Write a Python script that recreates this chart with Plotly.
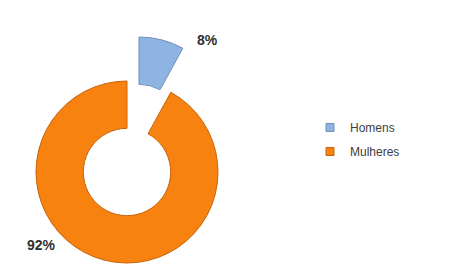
import plotly.graph_objects as go

categories = ["Homens", "Mulheres"]
values = [8, 92]
colors = ["#8EB4E3", "#F7820F"]
edge_colors = ["#6F8FB8", "#C8620A"]
label_texts = [f"{v}%" for v in values]

W, H = 459, 264

def dom(cx, cy, r):
    return dict(x=[(cx - r) / W, (cx + r) / W],
                y=[(H - cy - r) / H, (H - cy + r) / H])

fig = go.Figure()

# Ring with the orange slice (blue slot transparent)
fig.add_trace(go.Pie(
    labels=categories, values=values, sort=False, direction="clockwise", rotation=0,
    hole=0.48, textinfo="none", hoverinfo="label+percent", showlegend=False,
    marker=dict(colors=["rgba(0,0,0,0)", colors[1]],
                line=dict(color=["rgba(0,0,0,0)", edge_colors[1]], width=1)),
    domain=dom(127, 172, 91),
))
# Exploded blue slice (orange part transparent)
fig.add_trace(go.Pie(
    labels=categories, values=values, sort=False, direction="clockwise", rotation=0,
    hole=0.48, textinfo="none", hoverinfo="label+percent", showlegend=False,
    marker=dict(colors=[colors[0], "rgba(0,0,0,0)"],
                line=dict(color=[edge_colors[0], "rgba(0,0,0,0)"], width=1)),
    domain=dom(139, 128, 91),
))

# Legend entries
for i, name in enumerate(categories):
    fig.add_trace(go.Scatter(
        x=[None], y=[None], mode="markers", name=name, legendgroup=name,
        marker=dict(symbol="square", size=8, color=colors[i],
                    line=dict(color=edge_colors[i], width=1)),
    ))

fig.add_annotation(x=207 / W, y=(H - 30) / H, xref="paper", yref="paper",
                   text=f"<b>{label_texts[0]}</b>", showarrow=False,
                   font=dict(family="Liberation Sans, Arial", size=14, color="#303030"))
fig.add_annotation(x=25 / W, y=(H - 255) / H, xref="paper", yref="paper",
                   text=f"<b>{label_texts[1]}</b>", showarrow=False,
                   font=dict(family="Liberation Sans, Arial", size=14, color="#303030"))

fig.update_layout(
    width=W, height=H,
    margin=dict(l=0, r=0, t=0, b=0),
    paper_bgcolor="white", plot_bgcolor="white",
    xaxis=dict(visible=False), yaxis=dict(visible=False),
    legend=dict(x=310 / W, y=(H - 113) / H, xanchor="left", yanchor="top",
                font=dict(family="Liberation Sans, Arial", size=12, color="#404040"),
                tracegroupgap=5, itemwidth=30, bgcolor="rgba(0,0,0,0)"),
    showlegend=True,
)

fig.write_html("out.html", post_script="document.body.style.margin='0';",
               config={"displayModeBar": False})
